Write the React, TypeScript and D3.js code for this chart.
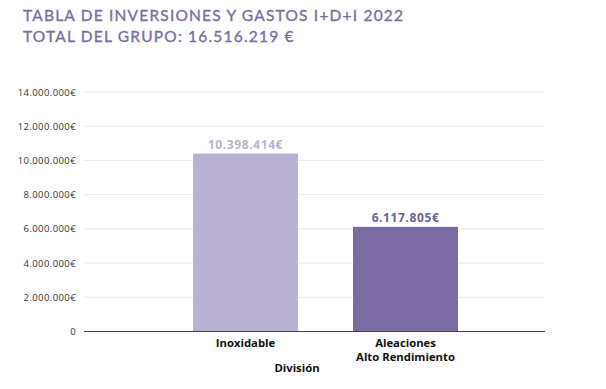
import React, { useEffect, useRef } from 'react'
import * as d3 from 'd3'

const categories = ['Inoxidable', 'Aleaciones\nAlto Rendimiento']
const values = [10398414, 6117805]
const valueLabels = ['10.398.414€', '6.117.805€']
const barColors = ['#bab2d3', '#7a6ca2']
const labelColors = ['#bcb3d4', '#6f6298']
const yTicks = [0, 2000000, 4000000, 6000000, 8000000, 10000000, 12000000, 14000000]
const titleLines = ['TABLA DE INVERSIONES Y GASTOS I+D+I 2022', 'TOTAL DEL GRUPO: 16.516.219 €']

const fmt = (v: number) => (v === 0 ? '0' : d3.format(',')(v).replace(/,/g, '.') + '€')

const Chart = () => {
  const ref = useRef<SVGSVGElement>(null)

  useEffect(() => {
    const svg = d3.select(ref.current)
    svg.selectAll('*').remove()

    const left = 84
    const right = 545
    const top = 92
    const bottom = 331.5

    const y = d3.scaleLinear().domain([0, 14000000]).range([bottom, top])
    const x = d3
      .scaleBand<string>()
      .domain(categories)
      .range([165.5, 485.5])
      .paddingInner(0.344)
      .paddingOuter(0.172)

    // title
    svg
      .append('g')
      .selectAll('text')
      .data(titleLines)
      .enter()
      .append('text')
      .attr('x', 23)
      .attr('y', (d, i) => 20.5 + i * 21.5)
      .attr('fill', '#7b6ea4')
      .attr('stroke', '#7b6ea4')
      .attr('stroke-width', 0.35)
      .style('font-family', 'Lato, "Open Sans", sans-serif')
      .style('font-size', '15.5px')
      .style('letter-spacing', '1.2px')
      .text(d => d)

    // gridlines
    svg
      .append('g')
      .selectAll('line')
      .data(yTicks.filter(t => t > 0))
      .enter()
      .append('line')
      .attr('x1', left)
      .attr('x2', right)
      .attr('y1', d => y(d))
      .attr('y2', d => y(d))
      .attr('stroke', '#e9e9e9')
      .attr('stroke-width', 1)

    // y tick labels
    svg
      .append('g')
      .selectAll('text')
      .data(yTicks)
      .enter()
      .append('text')
      .attr('x', 76)
      .attr('y', d => y(d) + 3.5)
      .attr('text-anchor', 'end')
      .attr('fill', '#333')
      .style('font-family', '"Open Sans", sans-serif')
      .style('font-size', '9.5px')
      .style('letter-spacing', '0.4px')
      .text(d => fmt(d))

    // bars
    svg
      .append('g')
      .selectAll('rect')
      .data(values)
      .enter()
      .append('rect')
      .attr('x', (d, i) => x(categories[i]) as number)
      .attr('width', x.bandwidth())
      .attr('y', d => y(d))
      .attr('height', d => bottom - y(d))
      .attr('fill', (d, i) => barColors[i])

    // value labels
    svg
      .append('g')
      .selectAll('text')
      .data(values)
      .enter()
      .append('text')
      .attr('x', (d, i) => (x(categories[i]) as number) + x.bandwidth() / 2)
      .attr('y', d => y(d) - 5)
      .attr('text-anchor', 'middle')
      .attr('fill', (d, i) => labelColors[i])
      .style('font-family', '"Open Sans", sans-serif')
      .style('font-weight', 'bold')
      .style('font-size', '12px')
      .style('letter-spacing', '0.6px')
      .text((d, i) => valueLabels[i])

    // x axis line
    svg
      .append('line')
      .attr('x1', left)
      .attr('x2', right)
      .attr('y1', bottom)
      .attr('y2', bottom)
      .attr('stroke', '#444')
      .attr('stroke-width', 1.2)

    // category labels
    const cat = svg
      .append('g')
      .selectAll('text')
      .data(categories)
      .enter()
      .append('text')
      .attr('text-anchor', 'middle')
      .attr('fill', '#111')
      .style('font-family', '"Open Sans", sans-serif')
      .style('font-weight', 'bold')
      .style('font-size', '11.3px')
    cat
      .selectAll('tspan')
      .data((d: string, i: number) => d.split('\n').map(s => ({ s, c: categories[i] })))
      .enter()
      .append('tspan')
      .attr('x', d => (x(d.c) as number) + x.bandwidth() / 2)
      .attr('y', (d, j) => 346.5 + j * 14)
      .text(d => d.s)

    // axis title
    svg
      .append('text')
      .attr('x', 297)
      .attr('y', 372)
      .attr('text-anchor', 'middle')
      .attr('fill', '#111')
      .style('font-family', '"Open Sans", sans-serif')
      .style('font-weight', 'bold')
      .style('font-size', '11.3px')
      .text('División')
  }, [])

  return <svg ref={ref} width={606} height={389} style={{ display: 'block' }} />
}

const App = () => {
  return (
    <div style={{ margin: -8, width: 606, height: 389, background: '#fff' }}>
      <Chart />
    </div>
  )
}

export default App
